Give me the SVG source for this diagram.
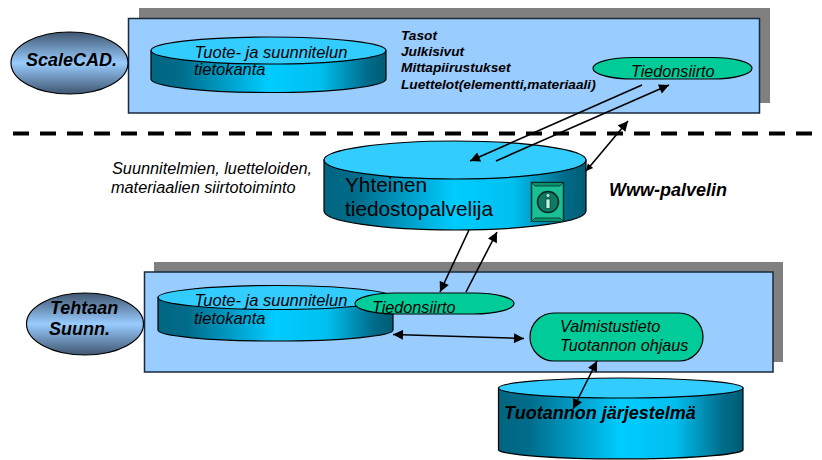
<svg xmlns="http://www.w3.org/2000/svg" width="822" height="460" viewBox="0 0 822 460">
<style>
text{font-family:"Liberation Sans",Arial,sans-serif;fill:#000}
.i{font-style:italic}
.b{font-style:italic;font-weight:700}
.panel{fill:#99ccff;stroke:#1a2a3a;stroke-width:1.5}
.shadow{fill:#808080}
.side{fill:url(#cyl);stroke:#000;stroke-width:1.2}
.top{fill:#33ccff;stroke:#000;stroke-width:1.2}
.pill{fill:#00cc99;stroke:#000;stroke-width:1.2}
.oval{fill:url(#oval);stroke:#000;stroke-width:1.2}
.c{fill:none;stroke:#000;stroke-width:1.6}
.t15{font-size:16.5px}
.t14{font-size:16.2px}
.l{font-size:13.7px}
.n{font-size:16.3px}
.o{font-size:18px}
</style>
<defs>
<linearGradient id="cyl" x1="0" x2="1" y1="0" y2="0">
<stop offset="0" stop-color="#006680"/><stop offset=".12" stop-color="#006b8a"/><stop offset=".5" stop-color="#00ccff"/><stop offset=".72" stop-color="#00c0f0"/><stop offset=".92" stop-color="#006b8a"/><stop offset="1" stop-color="#005c73"/>
</linearGradient>
<linearGradient id="oval" x1="0" x2="0" y1="0" y2="1">
<stop offset="0" stop-color="#3f5670"/><stop offset=".5" stop-color="#99ccff"/><stop offset="1" stop-color="#3f5670"/>
</linearGradient>
<marker id="a" viewBox="0 0 10 10" refX="10" refY="5" markerWidth="7.5" markerHeight="7" markerUnits="userSpaceOnUse" orient="auto-start-reverse" overflow="visible"><path d="M0 0L10 5L0 10z" fill="#000"/></marker>
<marker id="A" viewBox="0 0 10 10" refX="10" refY="5" markerWidth="11" markerHeight="10" markerUnits="userSpaceOnUse" orient="auto-start-reverse"><path d="M0 0L10 5L0 10z" fill="#000"/></marker>
</defs>

<g id="panel-top">
<rect class="shadow" x="139" y="8" width="631" height="95"/>
<rect class="panel" x="128.500" y="18.500" width="631" height="94.500"/>
</g>
<g id="panel-bottom">
<rect class="shadow" x="154" y="262" width="629" height="100"/>
<rect class="panel" x="144.500" y="272" width="628.500" height="100"/>
</g>

<g id="divider"><line x1="13" y1="133.500" x2="815" y2="133.500" stroke="#000" stroke-width="4" stroke-dasharray="16 11"/></g>

<g id="node-scalecad">
<ellipse class="oval" cx="69.500" cy="63" rx="58.500" ry="31"/>
<text class="b o" x="26" y="66">ScaleCAD.</text>
</g>
<g id="node-db-top">
<path class="side" d="M151 51V79A117.500 13.500 0 0 0 386 79V51z"/>
<ellipse class="top" cx="268.500" cy="50.500" rx="117.500" ry="13.500"/>
<text class="i t15" x="194.500" y="57.500">Tuote- ja suunnitelun</text>
<text class="i t15" x="194" y="75">tietokanta</text>
</g>
<g id="node-list">
<text class="b l" x="401" y="39.500">Tasot</text>
<text class="b l" x="401" y="56">Julkisivut</text>
<text class="b l" x="401" y="72">Mittapiirustukset</text>
<text class="b l" x="401" y="88.500">Luettelot(elementti,materiaali)</text>
</g>
<g id="node-transfer-top">
<rect class="pill" x="593" y="57.500" width="159" height="21.500" rx="40" ry="10.750"/>
<text class="i t14" x="631" y="77">Tiedonsiirto</text>
</g>
<g id="node-note">
<text class="i n" x="112" y="173.500">Suunnitelmien, luetteloiden,</text>
<text class="i n" x="111" y="192.500">materiaalien siirtotoiminto</text>
</g>
<g id="node-server">
<path class="side" d="M324 160V211A131 19 0 0 0 586 211V160z"/>
<ellipse class="top" cx="455" cy="160" rx="131" ry="19"/>
<text font-size="20.800px" x="345" y="192">Yhteinen</text>
<text font-size="20.800px" x="345" y="216">tiedostopalvelija</text>
<g id="info-icon">
<rect x="531.500" y="182.500" width="32" height="38.500" fill="#1abf95" stroke="#003322" stroke-width="1.500"/>
<path d="M532 183l3 3h25l3-3M532 221l3-3h25l3 3" fill="#0e8f70" stroke="#003322" stroke-width=".8"/>
<circle cx="548" cy="202" r="10.500" fill="#0f7a63" stroke="#002a20" stroke-width="1.500"/>
<rect x="546" y="199" width="4" height="9.500" fill="#bff0e2" stroke="#002a20" stroke-width=".6"/>
<circle cx="548" cy="195.500" r="2" fill="#bff0e2" stroke="#002a20" stroke-width=".6"/>
</g>
</g>
<g id="node-www"><text class="b o" x="609" y="196">Www-palvelin</text></g>

<g id="node-tehtaan">
<ellipse class="oval" cx="85" cy="324" rx="58.500" ry="31"/>
<text class="b o" x="50" y="313.500">Tehtaan</text>
<text class="b o" x="49" y="335">Suunn.</text>
</g>
<g id="node-db-bottom">
<path class="side" d="M158 297.500V330A117.500 11 0 0 0 393 330V297.500z"/>
<ellipse class="top" cx="275.500" cy="297.500" rx="117.500" ry="12"/>
<text class="i t15" x="194.500" y="306">Tuote- ja suunnitelun</text>
<text class="i t15" x="194" y="324">tietokanta</text>
</g>
<g id="node-transfer-bottom">
<rect class="pill" x="355" y="293" width="159" height="21" rx="40" ry="10.500"/>
<text class="i t14" x="372" y="313">Tiedonsiirto</text>
</g>
<g id="node-production-info">
<rect class="pill" x="530" y="313" width="173" height="48" rx="24" ry="24"/>
<text class="i t14" x="560" y="332">Valmistustieto</text>
<text class="i t14" x="560" y="351">Tuotannon ohjaus</text>
</g>
<g id="node-production">
<path class="side" d="M498.500 388V450A122.500 9.500 0 0 0 743 450V388z"/>
<ellipse class="top" cx="620.750" cy="388" rx="122.250" ry="10"/>
<text class="b o" x="504" y="419">Tuotannon järjestelmä</text>
</g>

<g id="connectors">
<line class="c" x1="642" y1="85" x2="470" y2="161" marker-end="url(#A)"/>
<line class="c" x1="496" y1="161" x2="669" y2="85" marker-end="url(#A)"/>
<line class="c" x1="586" y1="171" x2="628" y2="121" marker-start="url(#a)" marker-end="url(#A)"/>
<line class="c" x1="469" y1="230" x2="440" y2="292" marker-end="url(#A)"/>
<line class="c" x1="466" y1="292" x2="497" y2="232" marker-end="url(#A)"/>
<line class="c" x1="393" y1="334.500" x2="524" y2="338.500" marker-start="url(#A)" marker-end="url(#A)"/>
<line class="c" x1="597" y1="361" x2="573" y2="409" marker-start="url(#A)" marker-end="url(#A)"/>
</g>
</svg>
